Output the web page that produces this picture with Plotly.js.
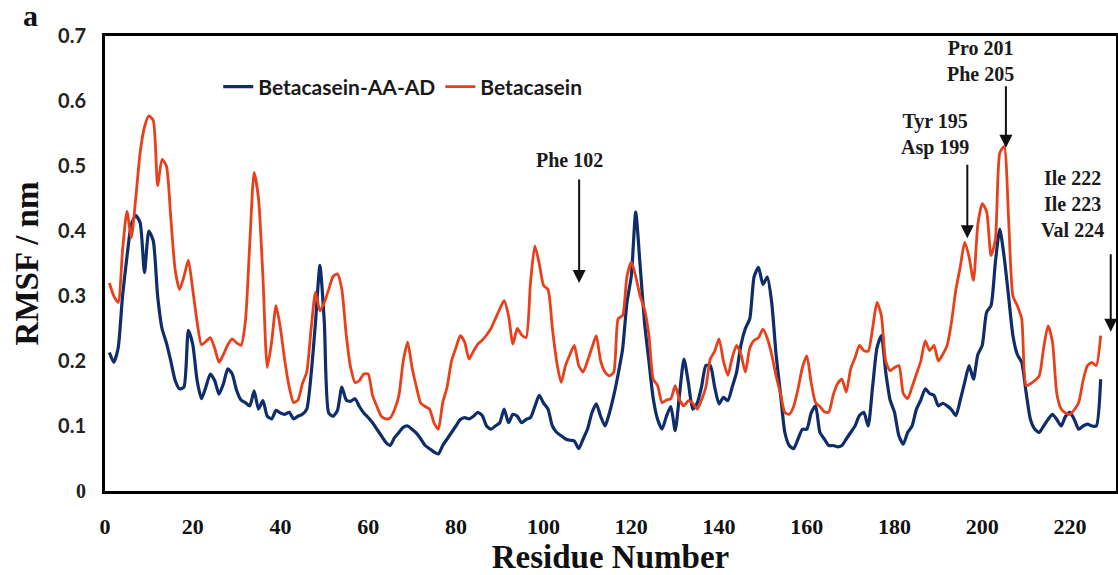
<!DOCTYPE html>
<html>
<head>
<meta charset="utf-8">
<script src="https://cdn.plot.ly/plotly-3.0.1.min.js"></script>
<style>html,body{margin:0;padding:0;background:#fff;}#chart{width:1118px;height:575px;}</style>
</head>
<body>
<div id="chart"></div>
<script>
// Betacasein-AA-AD (blue)
const residuesBlue = [1,2,3,4,5,6,7,8,9,10,11,12,13,14,15,16,17,18,19,20,21,22,23,24,25,26,27,28,29,30,31,32,33,34,35,36,37,38,39,40,41,42,43,44,45,46,47,48,49,50,51,52,53,54,55,56,57,58,59,60,61,62,63,64,65,66,67,68,69,70,71,72,73,74,75,76,77,78,79,80,81,82,83,84,85,86,87,88,89,90,91,92,93,94,95,96,97,98,99,100,101,102,103,104,105,106,107,108,109,110,111,112,113,114,115,116,117,118,119,120,121,122,123,124,125,126,127,128,129,130,131,132,133,134,135,136,137,138,139,140,141,142,143,144,145,146,147,148,149,150,151,152,153,154,155,156,157,158,159,160,161,162,163,164,165,166,167,168,169,170,171,172,173,174,175,176,177,178,179,180,181,182,183,184,185,186,187,188,189,190,191,192,193,194,195,196,197,198,199,200,201,202,203,204,205,206,207,208,209,210,211,212,213,214,215,216,217,218,219,220,221,222,223,224,225,226,227];
const rmsfBlue = [0.213,0.198,0.22,0.30,0.36,0.41,0.424,0.413,0.336,0.40,0.385,0.30,0.25,0.228,0.20,0.17,0.157,0.16,0.247,0.226,0.17,0.142,0.16,0.18,0.17,0.149,0.165,0.188,0.18,0.155,0.14,0.136,0.131,0.154,0.126,0.139,0.115,0.111,0.124,0.12,0.118,0.121,0.111,0.115,0.118,0.126,0.18,0.26,0.347,0.26,0.12,0.115,0.124,0.16,0.14,0.138,0.142,0.13,0.12,0.113,0.105,0.095,0.085,0.075,0.07,0.082,0.09,0.098,0.10,0.095,0.089,0.08,0.07,0.065,0.06,0.057,0.07,0.08,0.09,0.10,0.11,0.113,0.111,0.115,0.121,0.116,0.10,0.095,0.10,0.105,0.126,0.105,0.118,0.115,0.105,0.11,0.113,0.13,0.147,0.135,0.126,0.10,0.09,0.085,0.08,0.078,0.077,0.065,0.08,0.095,0.12,0.134,0.115,0.10,0.12,0.147,0.18,0.218,0.29,0.331,0.429,0.347,0.26,0.20,0.142,0.11,0.095,0.115,0.13,0.093,0.15,0.203,0.167,0.126,0.135,0.16,0.193,0.193,0.16,0.134,0.144,0.139,0.16,0.183,0.225,0.25,0.265,0.33,0.344,0.318,0.329,0.29,0.21,0.15,0.09,0.07,0.065,0.08,0.095,0.095,0.12,0.131,0.09,0.08,0.07,0.07,0.068,0.07,0.08,0.09,0.10,0.116,0.121,0.10,0.16,0.22,0.239,0.183,0.14,0.121,0.085,0.072,0.09,0.10,0.126,0.14,0.157,0.15,0.147,0.131,0.135,0.131,0.125,0.116,0.14,0.167,0.193,0.172,0.21,0.224,0.275,0.285,0.352,0.403,0.36,0.30,0.239,0.21,0.198,0.152,0.11,0.095,0.09,0.10,0.11,0.118,0.11,0.10,0.115,0.121,0.11,0.095,0.10,0.103,0.10,0.10,0.172];

// Betacasein (red)
const residuesRed = residuesBlue;
const rmsfRed = [0.32,0.30,0.29,0.37,0.43,0.39,0.45,0.52,0.56,0.577,0.57,0.47,0.51,0.50,0.42,0.34,0.31,0.33,0.355,0.31,0.26,0.225,0.23,0.236,0.22,0.198,0.21,0.225,0.234,0.228,0.224,0.26,0.38,0.49,0.45,0.33,0.19,0.23,0.285,0.25,0.20,0.16,0.136,0.14,0.165,0.183,0.25,0.306,0.277,0.29,0.31,0.33,0.334,0.31,0.24,0.19,0.167,0.17,0.18,0.18,0.147,0.13,0.115,0.111,0.112,0.125,0.147,0.20,0.229,0.19,0.16,0.135,0.13,0.126,0.105,0.095,0.136,0.16,0.20,0.22,0.239,0.229,0.203,0.215,0.226,0.232,0.24,0.25,0.265,0.28,0.293,0.27,0.226,0.25,0.24,0.236,0.32,0.377,0.35,0.316,0.31,0.25,0.198,0.167,0.193,0.21,0.224,0.193,0.183,0.20,0.22,0.239,0.20,0.183,0.177,0.183,0.265,0.27,0.33,0.352,0.33,0.30,0.28,0.24,0.172,0.162,0.136,0.14,0.142,0.162,0.14,0.131,0.139,0.135,0.126,0.14,0.16,0.203,0.215,0.234,0.20,0.178,0.205,0.224,0.21,0.183,0.22,0.232,0.236,0.249,0.235,0.21,0.177,0.15,0.121,0.118,0.13,0.157,0.19,0.208,0.167,0.136,0.13,0.122,0.121,0.147,0.165,0.172,0.152,0.188,0.205,0.224,0.216,0.215,0.25,0.29,0.27,0.20,0.185,0.19,0.193,0.15,0.142,0.16,0.18,0.20,0.231,0.216,0.224,0.20,0.21,0.224,0.26,0.31,0.345,0.383,0.36,0.324,0.41,0.442,0.43,0.362,0.387,0.52,0.53,0.42,0.30,0.285,0.265,0.162,0.165,0.17,0.177,0.22,0.254,0.23,0.15,0.126,0.12,0.118,0.125,0.136,0.17,0.193,0.198,0.193,0.239];

const seriesNames = ['Betacasein-AA-AD', 'Betacasein'];
const xTickVals = [0,20,40,60,80,100,120,140,160,180,200,220];
const yTickVals = [0,0.1,0.2,0.3,0.4,0.5,0.6,0.7];
const yTickText = ['<span style="font-family:Liberation Serif">0</span>','0.1','0.2','0.3','0.4','0.5','0.6','0.7'];

const serif = 'Liberation Serif, Times New Roman, serif';
const sans = 'Lato, Open Sans, sans-serif';

const traces = [
  {x: residuesBlue, y: rmsfBlue, name: seriesNames[0], type: 'scatter', mode: 'lines',
   line: {color: '#0f2c6b', width: 3.2, shape: 'spline', smoothing: 0.6}},
  {x: residuesRed, y: rmsfRed, name: seriesNames[1], type: 'scatter', mode: 'lines',
   line: {color: '#e8401a', width: 2.8, shape: 'spline', smoothing: 0.6}}
];

function arrow(x, y, len) {
  return {x: x, y: y, xref: 'x', yref: 'y', ax: 0, ay: -len, text: '', showarrow: true,
          arrowhead: 2, arrowsize: 1.3, arrowwidth: 2, arrowcolor: '#111'};
}
function label(x, y, txt) {
  return {x: x, y: y, xref: 'x', yref: 'y', text: txt, showarrow: false,
          font: {family: serif, size: 20, color: '#1a1a1a'}, align: 'center'};
}

const layout = {
  width: 1118, height: 575,
  margin: {l: 105, r: 2, t: 36, b: 84},
  paper_bgcolor: '#ffffff', plot_bgcolor: '#ffffff',
  showlegend: true,
  legend: {orientation: 'h', x: 0.112, y: 0.888, xanchor: 'left', yanchor: 'middle',
           font: {family: sans, size: 21, color: '#1a1a1a', weight: 'bold'},
           bgcolor: 'rgba(0,0,0,0)', itemwidth: 30, tracegroupgap: 0},
  xaxis: {range: [0, 230.5], tickvals: xTickVals, showgrid: false, zeroline: false,
          showline: true, mirror: true, linecolor: '#000', linewidth: 3,
          ticks: 'outside', ticklen: 14, tickcolor: 'rgba(0,0,0,0)',
          tickfont: {family: serif, size: 22, color: '#111', weight: 'bold'},
          title: {text: '<b>Residue Number</b>', font: {family: serif, size: 33, color: '#111'}, standoff: 4}},
  yaxis: {range: [0, 0.7], tickvals: yTickVals, ticktext: yTickText, showgrid: false, zeroline: false,
          showline: true, mirror: true, linecolor: '#000', linewidth: 3,
          ticks: 'outside', ticklen: 12, tickcolor: 'rgba(0,0,0,0)',
          tickfont: {family: sans, size: 20, color: '#222', weight: 'bold'},
          title: {text: '<b>RMSF / nm</b>', font: {family: serif, size: 33, color: '#111'}, standoff: 10}},
  annotations: [
    arrow(108.1, 0.32, 105),
    arrow(196.6, 0.389, 75),
    arrow(205.4, 0.528, 63),
    arrow(229.3, 0.245, 79),
    label(105.8, 0.509, '<b>Phe 102</b>'),
    label(189.2, 0.548, '<b>Tyr 195</b><br><b>Asp 199</b>'),
    label(199.5, 0.661, '<b>Pro 201</b><br><b>Phe 205</b>'),
    label(220.5, 0.441, '<b>Ile 222</b><br><b>Ile 223</b><br><b>Val 224</b>'),
    {x: (30 - 105) / 1011, y: (491 - 16) / 455, xref: 'paper', yref: 'paper', xanchor: 'center', yanchor: 'middle',
     text: '<b>a</b>', showarrow: false, font: {family: serif, size: 30, color: '#111'}}
  ]
};

Plotly.newPlot('chart', traces, layout, {displayModeBar: false, staticPlot: true});
</script>
</body>
</html>
